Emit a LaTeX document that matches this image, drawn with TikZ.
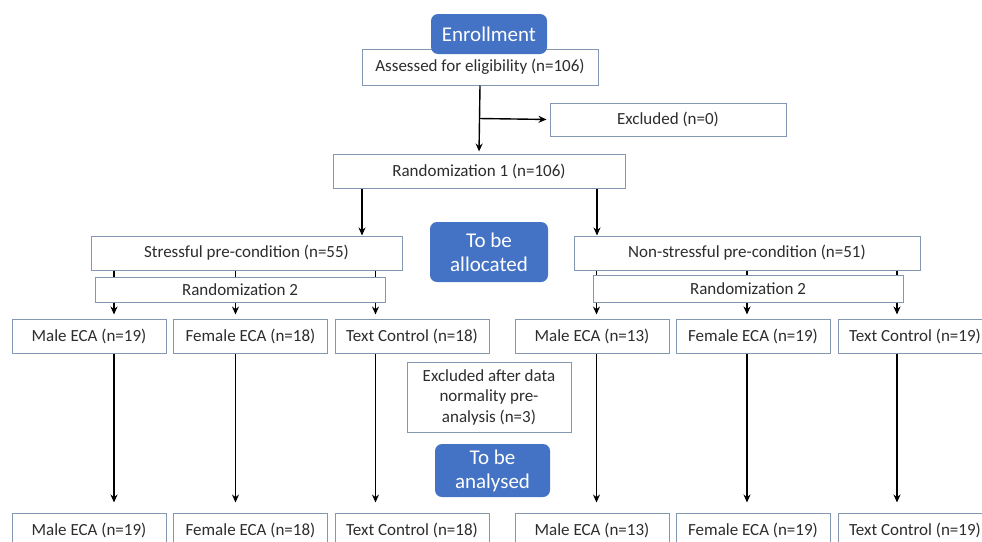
\documentclass[tikz,border=0pt]{standalone}
\usepackage{fontspec}
\setmainfont{Carlito}
\usetikzlibrary{arrows.meta, positioning}
\definecolor{boxline}{RGB}{132,151,176}
\definecolor{boxtext}{RGB}{45,45,45}
\definecolor{stageblue}{RGB}{68,114,196}
\tikzset{
  box/.style={draw=boxline, line width=1pt, fill=white, text=boxtext, inner sep=0pt, font=\fontsize{17}{20.5}\selectfont},
  stage/.style={fill=stageblue, rounded corners=7pt, text=white, align=center, inner sep=0pt, font=\fontsize{21}{24}\selectfont},
  flow/.style={line width=1.4pt, -{Stealth[length=8pt, width=7pt]}},
  link/.style={line width=1.4pt}
}

\begin{document}
\begin{tikzpicture}[x=1pt, y=-1pt]
\useasboundingbox (0,0) rectangle (982,541);
\node[box, minimum width=236, minimum height=36] (assess) at (480, 67) {Assessed for eligibility (n=106)};
\node[box, minimum width=236, minimum height=33] (excl) at (668, 119.5) {Excluded (n=0)};
\node[box, minimum width=292, minimum height=34] (rand1) at (479, 171) {Randomization 1 (n=106)};
\node[box, minimum width=311, minimum height=34] (stress) at (246.5, 253) {Stressful pre-condition (n=55)};
\node[box, minimum width=290, minimum height=25] (randL) at (240, 289.5) {Randomization 2};
\node[box, minimum width=346, minimum height=34] (nonstress) at (747, 253) {Non-stressful pre-condition (n=51)};
\node[box, minimum width=310, minimum height=27] (randR) at (748, 288.5) {Randomization 2};
% allocation row
\node[box, minimum width=154, minimum height=34] (maleL) at (89, 336) {Male ECA (n=19)};
\node[box, minimum width=154, minimum height=34] (femL) at (250.5, 336) {Female ECA (n=18)};
\node[box, minimum width=154, minimum height=34] (textL) at (412, 336) {Text Control (n=18)};
\node[box, minimum width=154, minimum height=34] (maleR) at (592, 336) {Male ECA (n=13)};
\node[box, minimum width=154, minimum height=34] (femR) at (753, 336) {Female ECA (n=19)};
\node[box, minimum width=154, minimum height=34] (textR) at (915, 336) {Text Control (n=19)};
\node[box, minimum width=164, minimum height=70, align=center] (exclnorm) at (489, 397) {Excluded after data\\normality pre-\\analysis (n=3)};
% analysis row
\node[box, minimum width=154, minimum height=34] (maleLa) at (89, 530) {Male ECA (n=19)};
\node[box, minimum width=154, minimum height=34] (femLa) at (250.5, 530) {Female ECA (n=18)};
\node[box, minimum width=154, minimum height=34] (textLa) at (412, 530) {Text Control (n=18)};
\node[box, minimum width=154, minimum height=34] (maleRa) at (592, 530) {Male ECA (n=13)};
\node[box, minimum width=154, minimum height=34] (femRa) at (753, 530) {Female ECA (n=19)};
\node[box, minimum width=154, minimum height=34] (textRa) at (915, 530) {Text Control (n=19)};
% stage labels
\node[stage, minimum width=116, minimum height=40] (enrol) at (489, 34) {Enrollment};
\node[stage, minimum width=118, minimum height=60] (alloc) at (489, 252) {To be\\allocated};
\node[stage, minimum width=115, minimum height=53] (analys) at (492.5, 470.5) {To be\\analysed};
% columns
\coordinate (sL) at (362, 0);
\coordinate (sR) at (597, 0);
\coordinate (c1) at (114, 0);
\coordinate (c2) at (235.5, 0);
\coordinate (c3) at (375.5, 0);
\coordinate (c4) at (596.5, 0);
\coordinate (c5) at (747, 0);
\coordinate (c6) at (897, 0);
\coordinate (split) at (479, 118.5);
\draw[flow, shorten >=2pt] (assess.south) -- (rand1.north);
\draw[flow, shorten >=3pt] (split) -- (excl.west);
\draw[flow] (rand1.south -| sL) -- (stress.north -| sL);
\draw[flow] (rand1.south -| sR) -- (nonstress.north -| sR);
\foreach \c in {c1, c2, c3} {
  \draw[link] (stress.south -| \c) -- (randL.north -| \c);
  \draw[flow, shorten >=4pt] (randL.south -| \c) -- (maleL.north -| \c);
}
\foreach \c in {c4, c5, c6} {
  \draw[link] (nonstress.south -| \c) -- (randR.north -| \c);
  \draw[flow, shorten >=4pt] (randR.south -| \c) -- (maleR.north -| \c);
}
\draw[flow, shorten >=10pt] (maleL.south -| c1) -- (maleLa.north -| c1);
\draw[flow, shorten >=10pt] (femL.south -| c2) -- (femLa.north -| c2);
\draw[flow, shorten >=10pt] (textL.south -| c3) -- (textLa.north -| c3);
\draw[flow, shorten >=10pt] (maleR.south -| c4) -- (maleRa.north -| c4);
\draw[flow, shorten >=10pt] (femR.south -| c5) -- (femRa.north -| c5);
\draw[flow, shorten >=10pt] (textR.south -| c6) -- (textRa.north -| c6);
\end{tikzpicture}
\end{document}
